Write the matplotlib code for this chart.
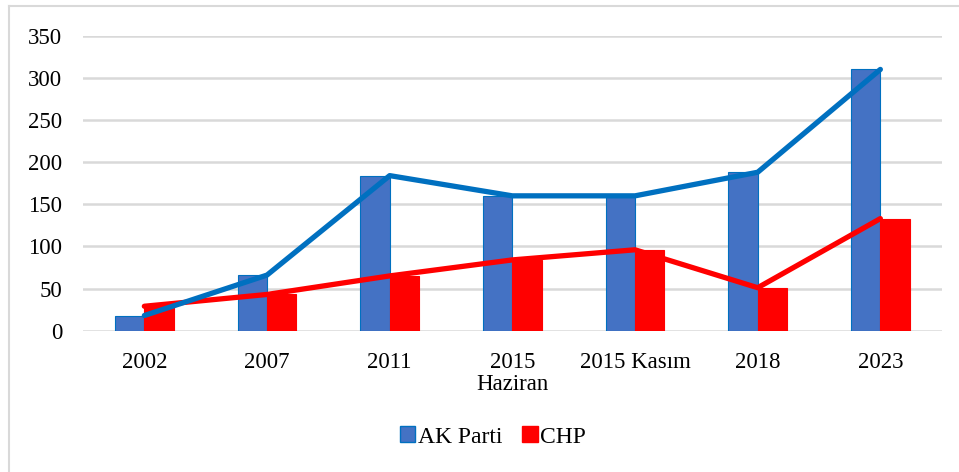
import matplotlib
matplotlib.use("Agg")
import matplotlib.pyplot as plt
import numpy as np
from matplotlib.patches import Patch
from matplotlib.lines import Line2D

# election years on the x axis
years = ["2002", "2007", "2011", "2015\nHaziran", "2015 Kasım", "2018", "2023"]
ak_parti = [18, 66, 184, 160, 160, 188, 310]
chp = [29, 43, 65, 84, 96, 51, 133]

ak_bar = "#4472C4"
ak_line = "#0070C0"
chp_col = "#FF0000"

plt.rcParams["font.family"] = ["Liberation Serif", "DejaVu Serif"]

fig = plt.figure(figsize=(9.59, 4.72), dpi=100)
ax = fig.add_axes([83 / 959, 1 - 330.7 / 472, (941.7 - 83) / 959, (330.7 - 35.7) / 472])

x = np.arange(len(years))
w = 0.24

ax.bar(x - w / 2, ak_parti, width=w, color=ak_bar, edgecolor=ak_line, linewidth=0.8, zorder=2)
ax.bar(x + w / 2, chp, width=w, color=chp_col, edgecolor=chp_col, linewidth=0.8, zorder=2)

# trend lines through the category centres
ax.plot(x, chp, color=chp_col, linewidth=3.8, solid_capstyle="round", zorder=3)
ax.plot(x, ak_parti, color=ak_line, linewidth=3.8, solid_capstyle="round", zorder=4)

ax.set_xlim(-0.5, len(years) - 0.5)
ax.set_ylim(0, 350)
ax.set_yticks(range(0, 351, 50))
ax.set_xticks(x)
ax.set_xticklabels(years, linespacing=1.1)
ax.tick_params(axis="both", length=0, labelsize=16.5, colors="#000000")
ax.tick_params(axis="x", pad=15)
ax.tick_params(axis="y", pad=15)

ax.grid(axis="y", color="#D9D9D9", linewidth=1.8, zorder=0)
ax.set_axisbelow(True)
for s in ax.spines.values():
    s.set_visible(False)

# outer chart frame (only top and left edges show in the crop)
fig.add_artist(Line2D([9 / 959, 1], [1 - 6 / 472, 1 - 6 / 472], color="#D9D9D9", linewidth=1.5))
fig.add_artist(Line2D([9 / 959, 9 / 959], [0, 1 - 6 / 472], color="#D9D9D9", linewidth=1.5))

handles = [Patch(facecolor=ak_bar, edgecolor=ak_line), Patch(facecolor=chp_col, edgecolor=chp_col)]
fig.legend(handles, ["AK Parti", "CHP"], loc="center", bbox_to_anchor=(493 / 959, 1 - 437 / 472),
           ncol=2, frameon=False, fontsize=17, handlelength=0.65, handleheight=0.65,
           handletextpad=0.1, columnspacing=0.85)

fig.savefig("out.png", dpi=100)
